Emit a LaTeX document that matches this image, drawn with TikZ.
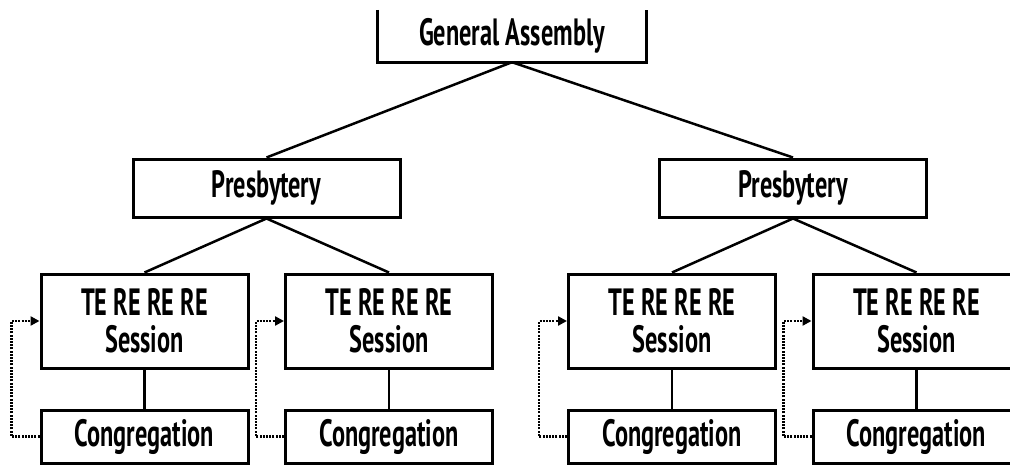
\documentclass[tikz,border=0pt]{standalone}
\usepackage{fontspec}
\setmainfont{PT Sans}[FakeStretch=0.64]
\usetikzlibrary{arrows.meta}
\begin{document}
\begin{tikzpicture}[x=1pt,y=-1pt,
  lbl/.style={font=\bfseries\fontsize{38}{37}\selectfont, align=center, inner sep=0pt},
  box/.style={lbl, draw, line width=3pt},
  pbox/.style={box, minimum width=267pt, minimum height=58pt},
  sbox/.style={box, minimum width=207pt, minimum height=94pt},
  cbox/.style={box, minimum width=207pt, minimum height=53pt},
  link/.style={line width=2.5pt},
  back/.style={line width=2.6pt, dash pattern=on 2pt off 1.2pt,
    -{Triangle[length=9pt,width=9pt]}}]
\useasboundingbox (0,0) rectangle (1010,466);

% top level: open-topped frame
\node[lbl, minimum width=268pt, minimum height=52pt] (ga) at (512,36) {General Assembly};
\draw[line width=3pt] (ga.north west) -- (ga.south west) -- (ga.south east) -- (ga.north east);

% presbyteries
\node[pbox] (pl) at (266.5,188) {Presbytery};
\node[pbox] (pr) at (793,188) {Presbytery};

% sessions
\node[sbox] (s1) at (144.5,321) {TE RE RE RE\\Session};
\node[sbox] (s2) at (389,321) {TE RE RE RE\\Session};
\node[sbox] (s3) at (672,321) {TE RE RE RE\\Session};
\node[sbox] (s4) at (916.5,321) {TE RE RE RE\\Session};

% congregations
\node[cbox] (c1) at (144.5,436.5) {Congregation};
\node[cbox] (c2) at (389,436.5) {Congregation};
\node[cbox] (c3) at (672,436.5) {Congregation};
\node[cbox] (c4) at (916.5,436.5) {Congregation};

% hierarchy links
\draw[link] (ga.south) -- (pl.north);
\draw[link] (ga.south) -- (pr.north);
\draw[link] (pl.south) -- (s1.north);
\draw[link] (pl.south) -- (s2.north);
\draw[link] (pr.south) -- (s3.north);
\draw[link] (pr.south) -- (s4.north);
\foreach \i in {1,2,3,4} {
  \draw[link] (s\i.south) -- (c\i.north);
  \draw[back] (c\i.west) -- ++(-28,0) |- (s\i.west);
}
\end{tikzpicture}
\end{document}
